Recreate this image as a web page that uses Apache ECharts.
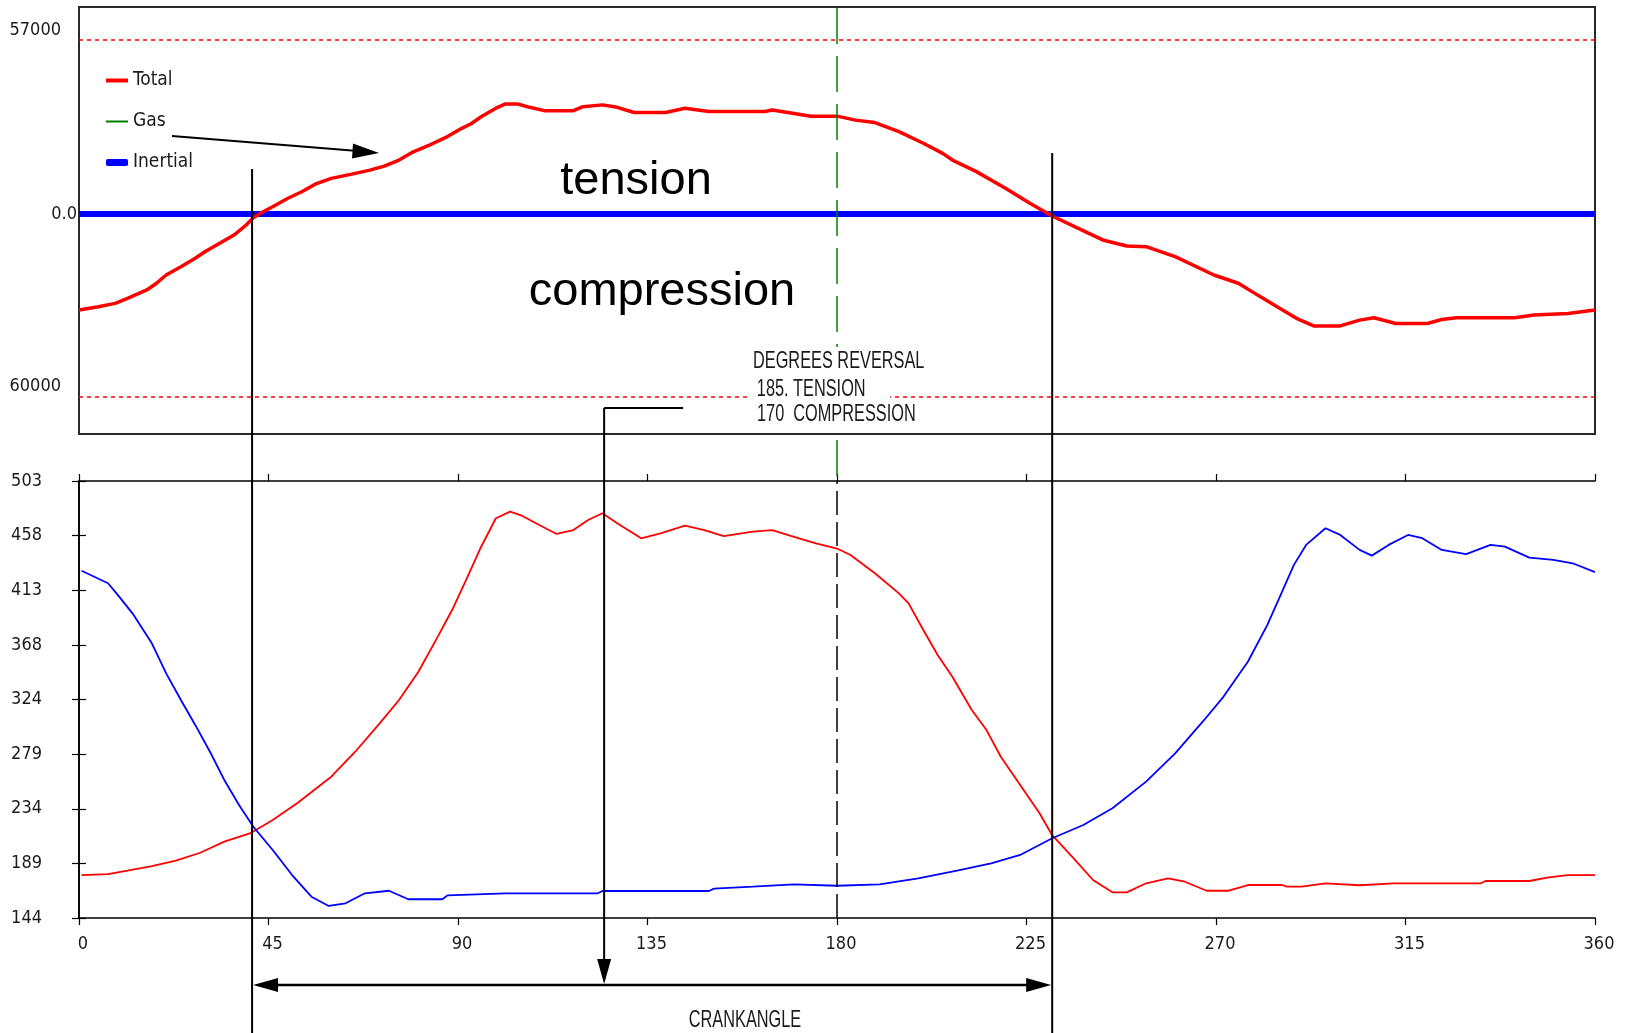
<!DOCTYPE html>
<html><head><meta charset="utf-8">
<script src="https://cdn.jsdelivr.net/npm/echarts@6/dist/echarts.min.js"></script>
<style>html,body{margin:0;padding:0;background:#fff}#c{width:1627px;height:1033px}</style>
</head><body><div id="c"></div>
<script>
// ---------- data ----------
const xTicks = [0, 45, 90, 135, 180, 225, 270, 315, 360];
const topYLabelValues = [57000, 0, -60000];
const topYLabels = ['57000', '0.0', '60000'];
const bottomYTickLabels = ['144', '189', '234', '279', '324', '368', '413', '458', '503'];
const limitLines = [57000, -60000];
const markerAngles = [41.1, 231.1];
const cursorAngle = 180;
const reversalAngle = 124.7;

const totalTop = [[0,-31500],[4.6,-30400],[8.6,-29300],[11.5,-27700],[16.1,-24900],[18.4,-22700],[20.7,-20000],[24.2,-17300],[27.6,-14500],[29.9,-12400],[33.4,-9600],[36.8,-6900],[39.7,-3600],[41.4,-1200],[43.7,750],[46,2400],[49.5,5100],[52.9,7300],[56.4,10000],[59.9,11700],[64.5,13000],[69.1,14400],[72.5,15700],[76,17700],[79.4,20400],[82.9,22400],[87.5,25400],[90.9,28100],[93.2,29700],[95.5,31900],[99,34700],[101.3,36100],[104.2,36100],[107,35000],[110.5,33900],[117.4,33900],[119.7,35200],[124.3,35800],[127.8,35000],[131.8,33300],[139.3,33300],[143.9,34700],[149.6,33600],[162.9,33600],[164.6,34100],[169.8,33000],[173.8,32100],[180,32100],[184.4,30800],[189,30000],[194.7,27000],[200.5,23200],[205.1,19900],[207.4,17700],[213.1,13900],[220.1,8400],[225.8,3500],[231.1,-650],[237.3,-4700],[243.1,-8500],[248.8,-10500],[253.4,-10700],[260.3,-14000],[269.5,-20000],[275.3,-22700],[279.9,-26600],[284.5,-30400],[289.1,-34200],[293.2,-36700],[299.5,-36700],[304.1,-34800],[307.5,-34000],[312.7,-35900],[320.2,-35900],[323.6,-34600],[327.1,-34000],[340.9,-34000],[345.5,-33100],[353.6,-32600],[360,-31500]];
const inertialTop = [[0,0],[360,0]];
const gasTop = [];

const redBottom = [[0.6,179.3],[6.9,180.1],[11.5,182.9],[17.3,186.7],[23,191.1],[28.8,197.6],[34.5,206.7],[40.9,214],[46,224.5],[51.8,238.2],[59.9,260.1],[65.6,280.6],[71.4,303.9],[76,323.1],[80.6,346.3],[85.2,375.1],[88.6,397],[92.1,423.1],[95.5,449],[99,472.4],[102.4,477.8],[105.3,474.3],[109.3,466.9],[113.4,459.5],[117.4,462.7],[120.9,471],[124.3,476.5],[127.8,468.3],[133.5,455.9],[138.1,460],[143.9,466.3],[148.5,462.7],[153.1,457.8],[160,461.4],[164.6,462.7],[169.2,457.8],[175,451.8],[180,447.5],[183.2,442.2],[189,427.2],[194.7,410.7],[197,402.5],[200.5,380.6],[203.9,360.1],[207.4,342.2],[212,314.9],[215.5,298.4],[218.9,276.5],[223.5,253.3],[228.1,230],[231.1,212],[236.2,193],[240.8,175.2],[245.4,165.1],[248.8,165.1],[253.4,172.5],[258.6,176.6],[262.6,173.8],[267.8,166.4],[273,166.4],[277.6,171.1],[285.7,171.1],[286.8,169.7],[290.3,169.7],[296,172.5],[304.1,170.9],[312.1,172.5],[332.9,172.5],[334,174.4],[344.4,174.4],[349,177.4],[353.6,179.3],[360,179.3]];
const blueBottom = [[0.6,429.3],[6.9,419],[9.2,409.4],[12.7,394.3],[17.3,369.7],[20.7,345],[24.2,323.1],[27.6,302.6],[31.1,280.6],[34.5,257.4],[38,236.8],[41.4,219],[46,199.9],[50.6,179.3],[55.2,161.5],[59.3,153.9],[63.3,156.1],[67.9,164.3],[73.6,166.4],[78.2,159.4],[86.3,159.4],[87.5,162.6],[101.3,164.3],[123.2,164.3],[124.3,166.2],[149.6,166.2],[150.8,168.1],[160,169.7],[169.8,171.7],[180,170.5],[190.1,171.7],[199.3,176.6],[208.5,182.9],[216.6,188.9],[223.5,195.8],[231.1,209.5],[238.5,220.4],[245.4,234.1],[253.4,256],[260.3,279.3],[267.2,306.7],[271.8,325.9],[277.6,354.7],[282.2,384.8],[285.7,412.2],[288.5,434.1],[291.4,450.5],[296,464.2],[299.5,458.7],[304.1,446.4],[307,441.7],[311,450.5],[315.6,458.7],[319,456],[323.6,446.4],[329.4,442.9],[335.2,450.5],[338.6,449.1],[344.4,440.1],[350.1,438.2],[354.7,435.4],[360,428.1]];

// ---------- styling ----------
const NARROW = "'Liberation Sans Narrow','Arial Narrow','DejaVu Sans Condensed',sans-serif";
const ARIAL = "'Liberation Sans',Arial,sans-serif";
const LBL = 18;
const TXT = '#1a1a1a';
const RED = '#ff0000', BLUE = '#0000ff', GREEN = '#008000';
const Y_MIN = 144, Y_MAX = 503, Y_STEP = 44.875;

const chart = echarts.init(document.getElementById('c'), null, {renderer: 'canvas'});

const legendBase = {
  left: 106, orient: 'vertical', padding: 0, itemWidth: 22, selectedMode: false,
  textStyle: {fontFamily: NARROW, fontSize: LBL + 1, color: TXT}
};

const option = {
  animation: false,
  backgroundColor: '#fff',
  legend: [
    Object.assign({}, legendBase, {top: 71, itemHeight: 4, data: [{name: 'Total', icon: 'rect'}]}),
    Object.assign({}, legendBase, {top: 112, itemHeight: 2, data: [{name: 'Gas', icon: 'rect'}]}),
    Object.assign({}, legendBase, {top: 153, itemHeight: 7, data: [{name: 'Inertial', icon: 'roundRect'}]})
  ],
  grid: [
    {left: 79, width: 1516, top: 7, height: 427, show: true, borderColor: '#2a2a2a', borderWidth: 2, containLabel: false},
    {left: 79, width: 1516, top: 481, height: 437, containLabel: false}
  ],
  xAxis: [
    {gridIndex: 0, type: 'value', min: 0, max: 360, show: false},
    {gridIndex: 1, type: 'value', min: 0, max: 360, interval: 45, position: 'bottom',
     axisLine: {lineStyle: {color: '#000', width: 1.6}},
     axisTick: {length: 7, lineStyle: {color: '#000', width: 1.2}},
     splitLine: {show: false},
     axisLabel: {margin: 17, fontFamily: NARROW, fontSize: LBL, color: TXT, padding: [0, 0, 0, 8],
                 formatter: v => String(xTicks[Math.round(v / 45)])}},
    {gridIndex: 1, type: 'value', min: 0, max: 360, interval: 45, position: 'top',
     axisLine: {lineStyle: {color: '#000', width: 1.6}},
     axisTick: {length: 7, lineStyle: {color: '#000', width: 1.2}},
     axisLabel: {show: false}, splitLine: {show: false}}
  ],
  yAxis: [
    {gridIndex: 0, type: 'value', min: -72150, max: 67900,
     axisLine: {show: false}, axisTick: {show: false}, splitLine: {show: false},
     z: 10,
     axisLabel: {
       customValues: topYLabelValues, margin: 2,
       formatter: v => {
         const i = topYLabelValues.indexOf(v);
         return v === 0 ? '{z|' + topYLabels[i] + '}' : (v > 0 ? '{n|' : '{m|') + topYLabels[i] + '}';
       },
       rich: {
         n: {fontFamily: NARROW, fontSize: LBL, color: TXT, padding: [0, 16, 20, 0]},
         m: {fontFamily: NARROW, fontSize: LBL, color: TXT, padding: [0, 16, 22, 0]},
         z: {fontFamily: NARROW, fontSize: LBL, color: TXT, backgroundColor: '#fff', padding: [10, 0, 10, 0]}
       }
     }},
    {gridIndex: 1, type: 'value', min: Y_MIN, max: Y_MAX, interval: Y_STEP, position: 'left',
     axisLine: {show: true, lineStyle: {color: '#000', width: 1.6}},
     axisTick: {show: true, length: 7, lineStyle: {color: '#000', width: 1.2}},
     splitLine: {show: false},
     axisLabel: {margin: 37, fontFamily: NARROW, fontSize: LBL, color: TXT,
                 formatter: v => bottomYTickLabels[Math.round((v - Y_MIN) / Y_STEP)]}},
    {gridIndex: 1, type: 'value', min: Y_MIN, max: Y_MAX, interval: Y_STEP, position: 'right',
     axisLine: {show: true, lineStyle: {color: '#000', width: 1.6}},
     axisTick: {show: true, length: 7, lineStyle: {color: '#000', width: 1.2}},
     axisLabel: {show: false}, splitLine: {show: false}}
  ],
  series: [
    {name: 'Inertial', type: 'line', xAxisIndex: 0, yAxisIndex: 0, data: inertialTop, showSymbol: false,
     lineStyle: {color: BLUE, width: 6}, itemStyle: {color: BLUE}, z: 3},
    {name: 'Gas', type: 'line', xAxisIndex: 0, yAxisIndex: 0, data: gasTop, showSymbol: false,
     lineStyle: {color: GREEN, width: 1.5}, itemStyle: {color: GREEN}},
    {name: 'Total', type: 'line', xAxisIndex: 0, yAxisIndex: 0, data: totalTop, showSymbol: false,
     lineStyle: {color: RED, width: 3.5}, itemStyle: {color: RED}, z: 4,
     markLine: {silent: true, symbol: 'none', label: {show: false},
       lineStyle: {color: RED, type: [4, 4], width: 1.5},
       data: limitLines.map(v => ({yAxis: v}))}},
    {name: 'Rod load tension', type: 'line', xAxisIndex: 1, yAxisIndex: 1, data: redBottom, showSymbol: false,
     lineStyle: {color: RED, width: 1.8}, itemStyle: {color: RED},
     markLine: {silent: true, symbol: 'none', label: {show: false},
       lineStyle: {color: '#000', type: [24, 7], width: 1.5},
       data: [{xAxis: cursorAngle}]}},
    {name: 'Rod load compression', type: 'line', xAxisIndex: 1, yAxisIndex: 1, data: blueBottom, showSymbol: false,
     lineStyle: {color: BLUE, width: 1.8}, itemStyle: {color: BLUE}}
  ]
};
chart.setOption(option);

// ---------- annotations ----------
const px = a => chart.convertToPixel({xAxisIndex: 1}, a);
const xA = px(markerAngles[0]);
const xB = px(markerAngles[1]);
const xC = chart.convertToPixel({xAxisIndex: 0}, cursorAngle);
const xR = px(reversalAngle);
const arrowY = 985;
const g = [];
const line = (x1, y1, x2, y2, w, color, dash) => g.push({type: 'line', z: 100, silent: true,
  shape: {x1, y1, x2, y2}, style: {stroke: color || '#000', lineWidth: w || 2, lineDash: dash || null}});
const tri = pts => g.push({type: 'polygon', z: 101, silent: true, shape: {points: pts}, style: {fill: '#000'}});
const text = (t, x, y, opt, extra) => g.push(Object.assign({type: 'text', z: 102, silent: true, x, y,
  scaleX: 0.68,
  style: Object.assign({text: t, fill: TXT, fontFamily: ARIAL, fontSize: 24, align: 'left', verticalAlign: 'middle'}, opt || {})}, extra || {}));

// green cursor across upper chart
line(xC, 8, xC, 480, 1.5, GREEN, [36, 12]);
// crossing markers
line(xA, 169, xA, 1033, 2);
line(xB, 153, xB, 1033, 2);
// crank angle double arrow
line(xA + 20, arrowY, xB - 20, arrowY, 2.5);
tri([[xA + 1, arrowY], [xA + 26, arrowY - 7], [xA + 26, arrowY + 7]]);
tri([[xB - 1, arrowY], [xB - 26, arrowY - 7], [xB - 26, arrowY + 7]]);
// reversal pointer
line(xR, 408, xR + 79, 408, 2);
line(xR, 408, xR, arrowY - 20, 2);
tri([[xR, arrowY - 1], [xR - 7, arrowY - 26], [xR + 7, arrowY - 26]]);
// legend arrow
line(172, 136, 358, 151, 2.2);
tri([[379, 153], [353, 143.5], [352, 158.5]]);
// region texts
text('tension', 636, 181, {fontFamily: ARIAL, fontSize: 47, fill: '#000', align: 'center'}, {scaleX: 1});
text('compression', 662, 292, {fontFamily: ARIAL, fontSize: 47, fill: '#000', align: 'center'}, {scaleX: 1});
// reversal note
text('DEGREES REVERSAL', 753, 361, {backgroundColor: '#fff', padding: [2, 4, 2, 0]});
text('185. TENSION', 750, 389, {backgroundColor: '#fff', padding: [2, 36, 2, 10]});
text('170  COMPRESSION', 757, 414, {backgroundColor: '#fff', padding: [2, 4, 2, 0]});
text('CRANKANGLE', 745, 1020, {align: 'center'});

chart.setOption({graphic: g});
</script>
</body></html>
